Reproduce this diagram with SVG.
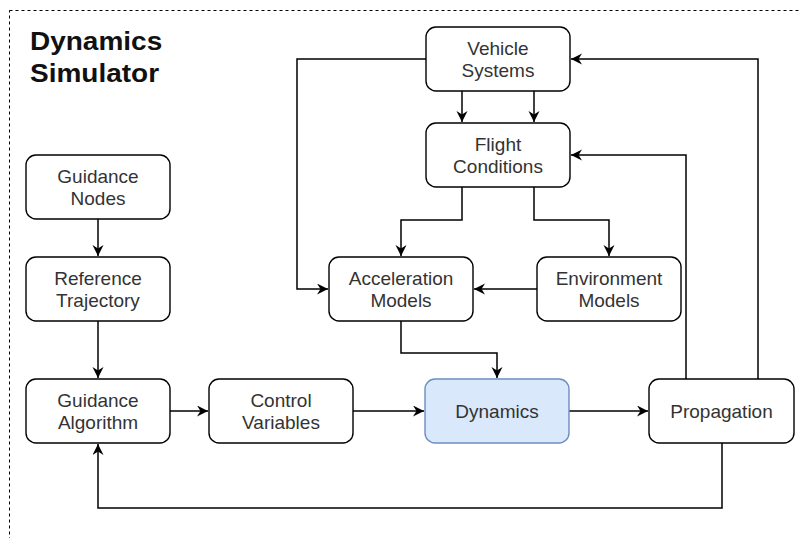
<svg xmlns="http://www.w3.org/2000/svg" width="800" height="538" viewBox="0 0 800 538">
<defs>
<marker id="arr" markerUnits="userSpaceOnUse" markerWidth="13" markerHeight="12" refX="11" refY="5.5" orient="auto">
<path d="M0,0 L11,5.5 L0,11 L3.5,5.5 z" fill="#000"/>
</marker>
<style>
.n rect{fill:#fff;stroke:#000;stroke-width:1.4}
.n text{font-family:"Liberation Sans",Arial,sans-serif;font-size:19px;fill:#333;text-anchor:middle}
#dynamics rect{fill:#dae8fc;stroke:#6c8ebf}
.c path{fill:none;stroke:#000;stroke-width:1.5}
.c path.a{marker-end:url(#arr)}
.title{font-family:"Liberation Sans",Arial,sans-serif;font-size:25px;font-weight:bold;fill:#111}
</style>
</defs>
<rect x="9.5" y="10.5" width="820" height="600" fill="none" stroke="#000" stroke-width="1" stroke-dasharray="3,3"/>
<g id="title">
<text class="title" transform="translate(30,50) scale(1.12,1)">Dynamics</text>
<text class="title" transform="translate(30,82) scale(1.12,1)">Simulator</text>
</g>
<g class="c" id="connectors">
<path class="a" d="M462,91 V122"/>
<path class="a" d="M534,91 V122"/>
<path class="a" d="M426,59 H297 V289 H328"/>
<path class="a" d="M462,187 V220 H401 V256"/>
<path class="a" d="M534,187 V220 H609 V256"/>
<path class="a" d="M537,289 H474"/>
<path class="a" d="M401,321 V353 H497 V378"/>
<path class="a" d="M98,219 V256"/>
<path class="a" d="M98,321 V378"/>
<path class="a" d="M170,411 H208"/>
<path class="a" d="M353,411 H424"/>
<path class="a" d="M569,411 H648"/>
<path class="a" d="M686,379 V155 H571"/>
<path class="a" d="M758,379 V59 H571"/>
<path class="a" d="M722,443 V508 H98 V444"/>
</g>
<g class="n" id="vehicle-systems"><rect x="426" y="27" width="144" height="64" rx="10"/><text x="498" y="55">Vehicle</text><text x="498" y="77">Systems</text></g>
<g class="n" id="flight-conditions"><rect x="426" y="123" width="144" height="64" rx="10"/><text x="498" y="151">Flight</text><text x="498" y="173">Conditions</text></g>
<g class="n" id="guidance-nodes"><rect x="26" y="155" width="144" height="64" rx="10"/><text x="98" y="183">Guidance</text><text x="98" y="205">Nodes</text></g>
<g class="n" id="reference-trajectory"><rect x="26" y="257" width="144" height="64" rx="10"/><text x="98" y="285">Reference</text><text x="98" y="307">Trajectory</text></g>
<g class="n" id="guidance-algorithm"><rect x="26" y="379" width="144" height="64" rx="10"/><text x="98" y="407">Guidance</text><text x="98" y="429">Algorithm</text></g>
<g class="n" id="control-variables"><rect x="209" y="379" width="144" height="64" rx="10"/><text x="281" y="407">Control</text><text x="281" y="429">Variables</text></g>
<g class="n" id="acceleration-models"><rect x="329" y="257" width="144" height="64" rx="10"/><text x="401" y="285">Acceleration</text><text x="401" y="307">Models</text></g>
<g class="n" id="environment-models"><rect x="537" y="257" width="144" height="64" rx="10"/><text x="609" y="285">Environment</text><text x="609" y="307">Models</text></g>
<g class="n" id="dynamics"><rect x="425" y="379" width="144" height="64" rx="10"/><text x="497" y="418">Dynamics</text></g>
<g class="n" id="propagation"><rect x="649" y="379" width="145" height="64" rx="10"/><text x="721.5" y="418">Propagation</text></g>
</svg>
